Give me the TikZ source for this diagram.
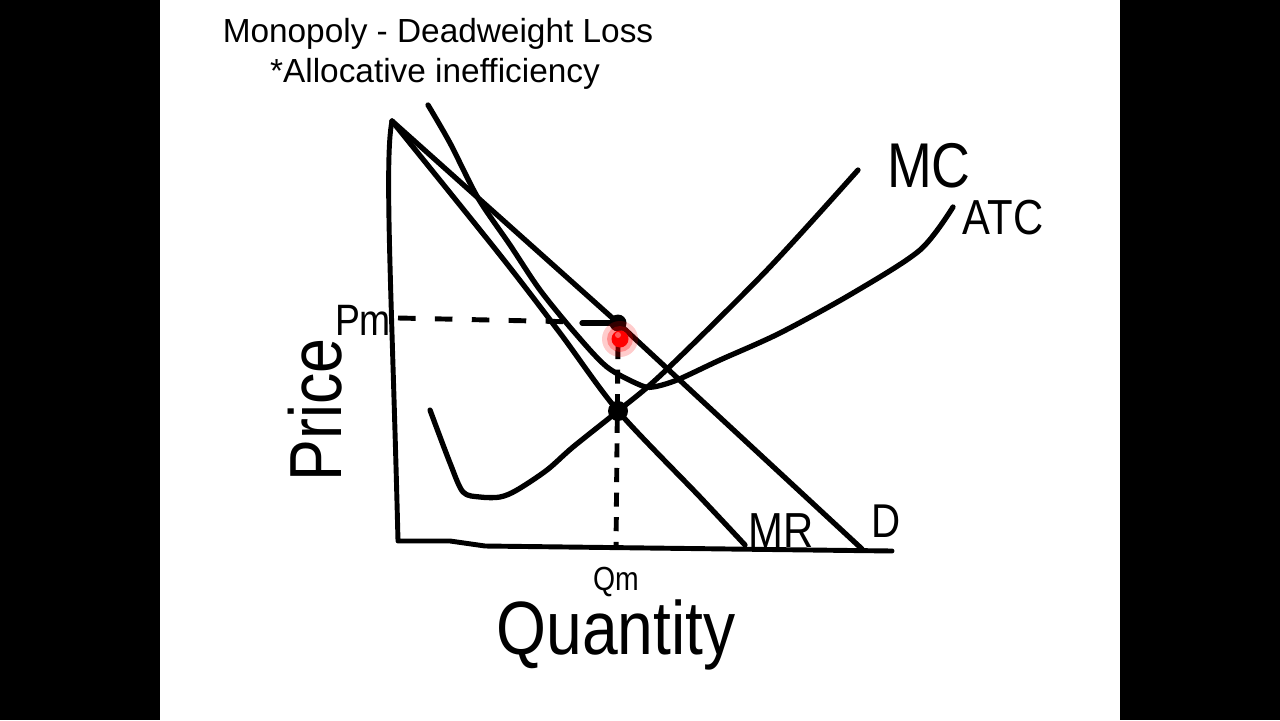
\documentclass[tikz,border=0pt]{standalone}
\usepackage{fontspec}
\setmainfont{Liberation Sans}
\newfontfamily\handfont[FakeStretch=0.85]{Liberation Sans}
\usetikzlibrary{positioning, calc}

\begin{document}
\begin{tikzpicture}[
    x=0.02cm, y=-0.02cm,
    curve/.style={line width=3pt, line cap=round, line join=round},
    axis/.style={line width=2.8pt, line cap=round, line join=round},
    guide/.style={line width=2.8pt, dash pattern=on 10pt off 11pt},
    ttl/.style={font=\fontsize{19}{23}\selectfont, anchor=base},
    hand/.style={font=\handfont\fontsize{#1}{#1}\selectfont, inner sep=0pt}
]
    \useasboundingbox (0,0) rectangle (1280,720);
    \fill[black] (0,0) rectangle (1280,720);
    \fill[white] (160,0) rectangle (1120,720);

    \node (ttl1) [ttl] at (438,42) {Monopoly - Deadweight Loss};
    \node (ttl2) [ttl] at (435,82) {*Allocative inefficiency};

    \coordinate (top) at (392,121);
    \coordinate (orig) at (398,541);
    \coordinate (xend) at (892,551);
    \coordinate (dend) at (862,549);
    \coordinate (pm) at (618,323);
    \coordinate (eq) at (618,411);

    % axes
    \draw[axis] (top) .. controls (384,160) and (392,300) .. (orig) -- (450,541) -- (485,546) -- (xend);

    % demand, MR, MC, ATC
    \draw[curve] (top) -- (pm) -- (dend);
    \draw[curve] plot[smooth, tension=0.5] coordinates {(392,121) (500,255) (560,333) (618,411) (700,497) (745,545)};
    \draw[curve] plot[smooth, tension=0.5] coordinates {(430,410) (450,463) (463,492) (480,497) (500,497) (517,490) (547,470) (573,447) (618,411) (663,373) (767,270) (858,170)};
    \draw[curve] plot[smooth, tension=0.5] coordinates {(428,105) (450,143) (478,198) (510,245) (540,290) (575,333) (607,367) (640,385) (653,387) (677,380) (720,360) (780,333) (853,293) (920,250) (953,207)};

    % Pm and Qm guides
    \draw[guide] (398,318) -- (580,322);
    \draw[curve] (582,323) -- (pm);
    \draw[guide, dash pattern=on 8pt off 6pt] (618,345) -- (616,548);

    \fill (eq) circle (0.2cm);
    \fill (pm) circle (0.17cm);
    \fill[red, opacity=0.2] (620,339) circle (0.36cm);
    \fill[red, opacity=0.3] (620,339) circle (0.26cm);
    \fill[red] (620,339) circle (0.17cm);
    \fill[white, opacity=0.35] (618,335) circle (0.06cm);

    \node (mclbl) [hand=36] at (929,166) {MC};
    \node (atclbl) [hand=28] at (1003,218) {ATC};
    \node (mrlbl) [hand=28] at (781,531) {MR};
    \node (dlbl) [hand=27] at (886,521) {D};
    \node (pmlbl) [hand=25] at (363,320) {Pm};
    \node (ylbl) [hand=42, rotate=90] at (315,410) {Price};
    \node (qmlbl) [hand=19] at (616,582) {Qm};
    \node (xlbl) [hand=43, below=0.05cm of qmlbl] {Quantity};
\end{tikzpicture}
\end{document}
